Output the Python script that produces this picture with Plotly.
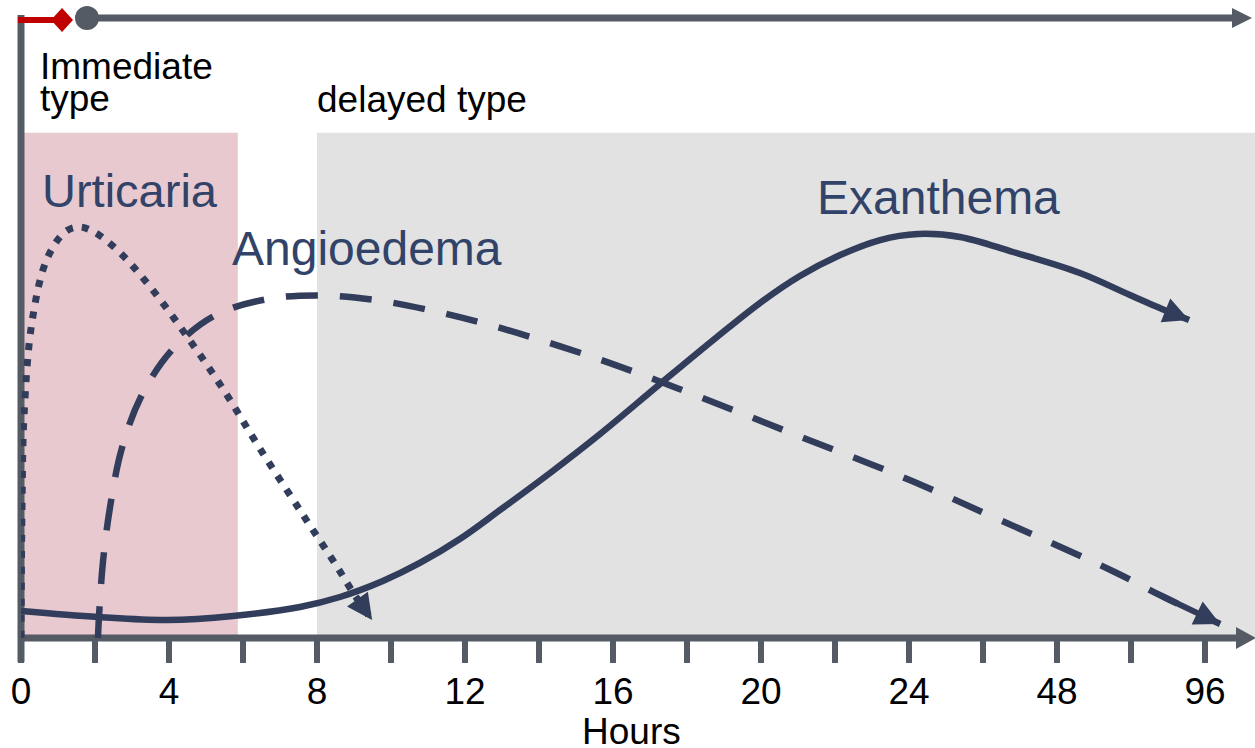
import plotly.graph_objects as go

# ---------------- data (x in axis position units: 1 unit = 1 h up to 24 h, then 24->48->96 compressed) -------------
tick_positions = [0, 4, 8, 12, 16, 20, 24, 28, 32]
tick_labels = ["0", "4", "8", "12", "16", "20", "24", "48", "96"]
minor_tick_positions = list(range(0, 33, 2))

# relative intensity 0-100
urticaria_x = [0.0, 0.03, 0.08, 0.30, 0.70, 1.19, 1.57, 1.97, 2.65, 3.51, 4.54, 5.51, 6.41, 7.54, 8.54, 9.03, 9.49]
urticaria_y = [0.0, 22.3, 35.6, 51.1, 61.1, 65.5, 66.3, 65.5, 62.3, 56.5, 48.2, 39.7, 31.0, 20.6, 11.5, 6.8, 2.9]

angioedema_x = [2.08, 2.11, 2.22, 2.42, 2.72, 3.24, 4.08, 5.24, 6.68, 8.18, 9.66, 11.15, 12.62, 14.08, 15.53,
                16.91, 18.35, 19.76, 21.15, 23.76, 26.46, 29.53, 30.86, 32.41]
angioedema_y = [0.0, 3.71, 12.58, 21.61, 30.48, 38.87, 46.45, 52.02, 54.68, 55.24, 54.44, 52.74, 50.56, 47.98, 45.16,
                42.18, 38.87, 35.56, 32.26, 26.13, 19.03, 10.73, 6.69, 2.26]

exanthema_x = [0.0, 2.08, 3.95, 5.73, 7.54, 8.62, 9.78, 10.78, 11.86, 12.95, 14.30, 15.65, 17.27, 18.81, 19.97,
               21.05, 22.14, 23.22, 24.24, 25.38, 26.81, 28.62, 29.97, 30.97, 31.57]
exanthema_y = [4.35, 3.39, 2.90, 3.55, 5.0, 6.61, 9.19, 12.10, 15.97, 20.65, 26.61, 32.90, 40.97, 48.55, 54.03,
               58.39, 61.77, 64.19, 65.16, 64.68, 62.26, 58.87, 55.32, 52.74, 51.29]

immediate_band = [0.0, 5.86]
delayed_band = [8.0, 34.0]
band_top = 81.5

# ---------------- styling ----------------
W, H = 1255, 748
ML, MR, MT, MB = 21, 0, 18, 110
PW, PH = W - ML - MR, H - MT - MB
XMAX = PW / 37.0
YMAX = 100.0

LINE_C = "#323d5c"
TEXT_C = "#324369"
AXIS_C = "#555b64"
RED = "#c00000"
FONT = "Liberation Sans, Arial, sans-serif"


def PX(px):
    return (px - ML) / PW


def PY(py):
    return (MT + PH - py) / PH


fig = go.Figure()
arrow_annotations = []


def curve(x, y, dash, width, name):
    fig.add_trace(go.Scatter(
        x=x, y=y, mode="lines", name=name,
        line=dict(color=LINE_C, width=width, dash=dash, shape="spline", smoothing=1.0),
        cliponaxis=False, hoverinfo="skip", showlegend=False))
    # arrowhead at the end of the curve, pointing along the last segment
    arrow_annotations.append(dict(
        x=x[-1], y=y[-1], ax=x[-2], ay=y[-2], xref="x", yref="y", axref="x", ayref="y",
        text="", showarrow=True, arrowhead=2, arrowsize=0.85, arrowwidth=6, arrowcolor=LINE_C,
        standoff=0, startstandoff=0))


curve(urticaria_x, urticaria_y, "7px,9px", 7, "Urticaria")
curve(angioedema_x, angioedema_y, "32px,22px", 6.5, "Angioedema")
curve(exanthema_x, exanthema_y, "solid", 6.5, "Exanthema")

shapes = [
    dict(type="rect", xref="paper", yref="paper",
         x0=immediate_band[0] / XMAX, x1=immediate_band[1] / XMAX, y0=0, y1=band_top / YMAX,
         fillcolor="#e8c9cf", line=dict(width=0), layer="below"),
    dict(type="rect", xref="paper", yref="paper",
         x0=delayed_band[0] / XMAX, x1=min(delayed_band[1] / XMAX, 1.0), y0=0, y1=band_top / YMAX,
         fillcolor="#e2e2e2", line=dict(width=0), layer="below"),
    # bottom axis
    dict(type="line", xref="paper", yref="paper", x0=PX(18), x1=PX(1240), y0=0, y1=0,
         line=dict(color=AXIS_C, width=7), layer="below"),
    dict(type="path", xref="paper", yref="paper",
         path=f"M{PX(1236)},{PY(627)} L{PX(1256)},{PY(638)} L{PX(1236)},{PY(649)} Z",
         fillcolor=AXIS_C, line=dict(width=0), layer="below"),
    # left axis
    dict(type="line", xref="paper", yref="paper", x0=0, x1=0, y0=PY(15), y1=PY(662),
         line=dict(color=AXIS_C, width=7), layer="below"),
    # top timeline
    dict(type="line", xref="paper", yref="paper", x0=PX(87), x1=PX(1236), y0=PY(18), y1=PY(18),
         line=dict(color=AXIS_C, width=7), layer="below"),
    dict(type="path", xref="paper", yref="paper",
         path=f"M{PX(1232)},{PY(8)} L{PX(1252)},{PY(18)} L{PX(1232)},{PY(28)} Z",
         fillcolor=AXIS_C, line=dict(width=0), layer="below"),
    dict(type="line", xref="paper", yref="paper", x0=PX(18), x1=PX(58), y0=PY(20), y1=PY(20),
         line=dict(color=RED, width=6), layer="below"),
    dict(type="path", xref="paper", yref="paper",
         path=f"M{PX(51)},{PY(20)} L{PX(62)},{PY(8)} L{PX(73)},{PY(20)} L{PX(62)},{PY(32)} Z",
         fillcolor=RED, line=dict(width=0), layer="below"),
    dict(type="circle", xref="paper", yref="paper", x0=PX(75), x1=PX(99), y0=PY(6), y1=PY(30),
         fillcolor=AXIS_C, line=dict(width=0), layer="below"),
]


def label(text, px, py, size, color, yanchor="middle", xanchor="left"):
    return dict(text=text, xref="paper", yref="paper", x=PX(px), y=PY(py), xanchor=xanchor, yanchor=yanchor,
                showarrow=False, borderpad=0, font=dict(family=FONT, size=size, color=color))


annotations = arrow_annotations + [
    label("Immediate", 39, 67, 37, "#000000"),
    label("type", 39, 99, 37, "#000000"),
    label("delayed type", 316, 100, 37, "#000000"),
    label("Urticaria", 41, 190, 47, TEXT_C),
    label("Angioedema", 231, 248, 48, TEXT_C),
    label("Exanthema", 816, 197, 48, TEXT_C),
    label("Hours", 631, 731, 37, "#000000", xanchor="center"),
]

fig.update_layout(
    width=W, height=H, margin=dict(l=ML, r=MR, t=MT, b=MB, autoexpand=False),
    paper_bgcolor="white", plot_bgcolor="rgba(0,0,0,0)",
    shapes=shapes, annotations=annotations, showlegend=False,
    xaxis=dict(range=[0, XMAX], showgrid=False, zeroline=False, showline=False, automargin=False,
               tickmode="array", tickvals=minor_tick_positions,
               ticktext=[tick_labels[tick_positions.index(v)] if v in tick_positions else "" for v in minor_tick_positions],
               ticks="outside", ticklen=24, tickwidth=6, tickcolor=AXIS_C, ticklabelstandoff=-3,
               tickfont=dict(family=FONT, size=37, color="#000000")),
    yaxis=dict(range=[0, YMAX], visible=False, fixedrange=True, automargin=False),
)

fig.write_html("out.html", config={"displayModeBar": False},
               post_script="document.body.style.margin='0';document.body.style.overflow='hidden';")
